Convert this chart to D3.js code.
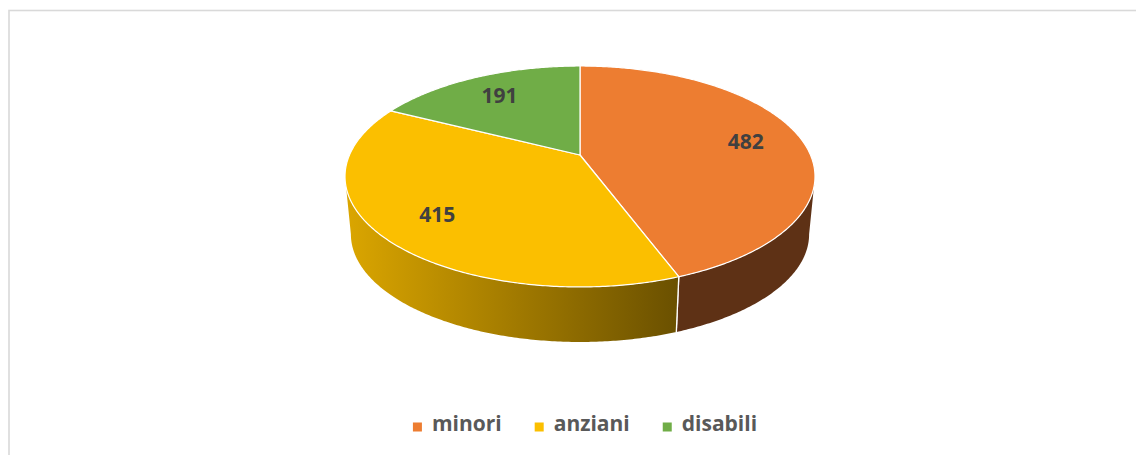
<!DOCTYPE html>
<html>
<head>
<meta charset="utf-8">
<script src="https://cdn.jsdelivr.net/npm/d3@7"></script>
<style>
  html, body { margin: 0; padding: 0; background: #fff; }
  svg { display: block; }
</style>
</head>
<body>
<svg id="chart" width="1136" height="455"></svg>
<script>
// ---- data ----
const categories = ["minori", "anziani", "disabili"];
const values = [482, 415, 191];
const topColors = ["#ED7D31", "#FBBF00", "#70AD47"];
const sideColorsLeft = ["#5E3115", "#DBA600", "#4A7330"];
const sideColorsRight = ["#5E3115", "#6A5000", "#35522A"];

// ---- layout ----
const W = 1136, H = 455;
const svg = d3.select("#chart");

// chart frame
svg.append("rect")
  .attr("x", 9).attr("y", 10.5)
  .attr("width", W + 20).attr("height", H + 20)
  .attr("fill", "#fff").attr("stroke", "#d9d9d9").attr("stroke-width", 1.6);

// perspective projection of the pie disc
const cx = 580, cy = 155;        // pie apex on screen
const A = 230.5, B = 106.3, k = 0.1945;   // horizontal/vertical radius, perspective
const sBottom = 0.975, depth = 58.3;       // bottom face scale & offset

const rScale = d3.scaleLinear().domain([0, 1]).range([0, 1]);

function proj(theta, r, bottom) {
  const rr = rScale(r);
  const u = rr * Math.sin(theta), v = -rr * Math.cos(theta);
  const w = 1 - k * v;
  let x = cx + A * u / w, y = cy + B * v / w;
  if (bottom) { x = cx + (x - cx) * sBottom; y = cy + (y - cy) * sBottom + depth; }
  return [x, y];
}

const pie = d3.pie().sort(null).value(d => d)(values);
const line = d3.line();

function arcPoints(a0, a1, bottom) {
  const n = Math.max(2, Math.ceil(Math.abs(a1 - a0) / 0.01));
  return d3.range(n + 1).map(i => proj(a0 + (a1 - a0) * i / n, 1, bottom));
}

// visible front range of the side wall
const frontStart = Math.acos(-k), frontEnd = 2 * Math.PI - Math.acos(-k);

const defs = svg.append("defs");

// ---- sides ----
const sides = svg.append("g");
pie.forEach((p, i) => {
  const t0 = Math.max(p.startAngle, frontStart), t1 = Math.min(p.endAngle, frontEnd);
  if (t1 <= t0) return;
  const topPts = arcPoints(t0, t1, false);
  const botPts = arcPoints(t1, t0, true);
  const xs = topPts.map(d => d[0]).concat(botPts.map(d => d[0]));
  const gid = "side" + i;
  const g = defs.append("linearGradient").attr("id", gid)
    .attr("gradientUnits", "userSpaceOnUse")
    .attr("x1", d3.min(xs)).attr("x2", d3.max(xs)).attr("y1", 0).attr("y2", 0);
  g.append("stop").attr("offset", "0%").attr("stop-color", sideColorsLeft[i]);
  g.append("stop").attr("offset", "100%").attr("stop-color", sideColorsRight[i]);
  sides.append("path")
    .attr("d", line(topPts.concat(botPts)) + "Z")
    .attr("fill", `url(#${gid})`);
  // edges at slice boundaries inside the front range
  [p.startAngle, p.endAngle].forEach(a => {
    if (a > frontStart + 0.01 && a < frontEnd - 0.01) {
      sides.append("path")
        .attr("d", line([proj(a, 1, false), proj(a, 1, true)]))
        .attr("stroke", "#fff").attr("stroke-width", 1.3).attr("fill", "none");
    }
  });
});

// ---- top faces ----
const tops = svg.append("g");
pie.forEach((p, i) => {
  const pts = [[cx, cy]].concat(arcPoints(p.startAngle, p.endAngle, false));
  tops.append("path")
    .attr("d", line(pts) + "Z")
    .attr("fill", topColors[i])
    .attr("stroke", "#fff").attr("stroke-width", 1.2)
    .attr("stroke-linejoin", "round");
});

// ---- data labels ----
const labelR = 0.75;
pie.forEach((p, i) => {
  const mid = (p.startAngle + p.endAngle) / 2;
  const [x, y] = proj(mid, labelR, false);
  svg.append("text")
    .attr("x", x).attr("y", y)
    .attr("text-anchor", "middle").attr("dominant-baseline", "central")
    .attr("font-family", "'Open Sans', sans-serif").attr("font-weight", 700)
    .attr("font-size", 21).attr("fill", "#404040")
    .text(values[i]);
});

// ---- legend ----
const legend = svg.append("g");
const items = [];
let xpos = 0;
categories.forEach((c, i) => {
  const g = legend.append("g");
  g.append("rect").attr("x", 0).attr("y", -8.5).attr("width", 9).attr("height", 9)
    .attr("fill", topColors[i]);
  const t = g.append("text").attr("x", 19).attr("y", 0)
    .attr("font-family", "'Open Sans', sans-serif").attr("font-weight", 700)
    .attr("font-size", 21).attr("fill", "#595959").text(c);
  const tw = t.node().getComputedTextLength();
  g.attr("transform", `translate(${xpos},0)`);
  xpos += 19 + tw + 33;
});
const legendWidth = xpos - 33;
legend.attr("transform", `translate(${585 - legendWidth / 2},431)`);
</script>
</body>
</html>
